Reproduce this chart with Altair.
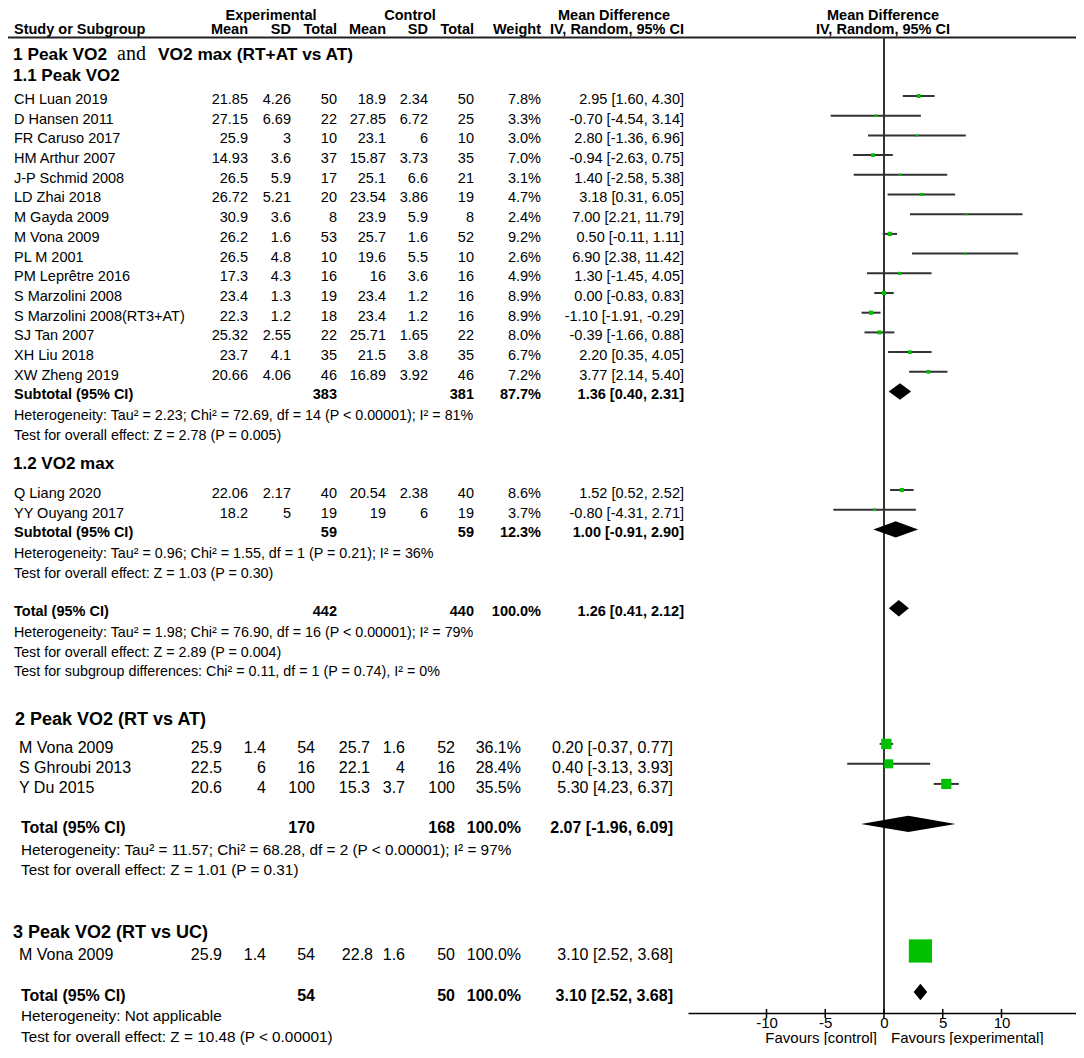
import altair as alt
import pandas as pd

# ---------------- data ----------------
s11_names = ["CH Luan 2019", "D Hansen 2011", "FR  Caruso 2017", "HM Arthur 2007", "J-P Schmid 2008",
             "LD Zhai 2018", "M Gayda 2009", "M Vona 2009", "PL M 2001", "PM Leprêtre 2016",
             "S Marzolini 2008", "S Marzolini 2008(RT3+AT)", "SJ Tan 2007", "XH Liu 2018", "XW Zheng 2019"]
s11_exp_mean = [21.85, 27.15, 25.9, 14.93, 26.5, 26.72, 30.9, 26.2, 26.5, 17.3, 23.4, 22.3, 25.32, 23.7, 20.66]
s11_exp_sd = [4.26, 6.69, 3, 3.6, 5.9, 5.21, 3.6, 1.6, 4.8, 4.3, 1.3, 1.2, 2.55, 4.1, 4.06]
s11_exp_n = [50, 22, 10, 37, 17, 20, 8, 53, 10, 16, 19, 18, 22, 35, 46]
s11_ctl_mean = [18.9, 27.85, 23.1, 15.87, 25.1, 23.54, 23.9, 25.7, 19.6, 16, 23.4, 23.4, 25.71, 21.5, 16.89]
s11_ctl_sd = [2.34, 6.72, 6, 3.73, 6.6, 3.86, 5.9, 1.6, 5.5, 3.6, 1.2, 1.2, 1.65, 3.8, 3.92]
s11_ctl_n = [50, 25, 10, 35, 21, 19, 8, 52, 10, 16, 16, 16, 22, 35, 46]
s11_weight = [7.8, 3.3, 3.0, 7.0, 3.1, 4.7, 2.4, 9.2, 2.6, 4.9, 8.9, 8.9, 8.0, 6.7, 7.2]
s11_md = [2.95, -0.70, 2.80, -0.94, 1.40, 3.18, 7.00, 0.50, 6.90, 1.30, 0.00, -1.10, -0.39, 2.20, 3.77]
s11_lo = [1.60, -4.54, -1.36, -2.63, -2.58, 0.31, 2.21, -0.11, 2.38, -1.45, -0.83, -1.91, -1.66, 0.35, 2.14]
s11_hi = [4.30, 3.14, 6.96, 0.75, 5.38, 6.05, 11.79, 1.11, 11.42, 4.05, 0.83, -0.29, 0.88, 4.05, 5.40]

s12_names = ["Q Liang 2020", "YY Ouyang 2017"]
s12_exp_mean = [22.06, 18.2]
s12_exp_sd = [2.17, 5]
s12_exp_n = [40, 19]
s12_ctl_mean = [20.54, 19]
s12_ctl_sd = [2.38, 6]
s12_ctl_n = [40, 19]
s12_weight = [8.6, 3.7]
s12_md = [1.52, -0.80]
s12_lo = [0.52, -4.31]
s12_hi = [2.52, 2.71]

s2_names = ["M Vona 2009", "S Ghroubi 2013", "Y Du 2015"]
s2_exp_mean = [25.9, 22.5, 20.6]
s2_exp_sd = [1.4, 6, 4]
s2_exp_n = [54, 16, 100]
s2_ctl_mean = [25.7, 22.1, 15.3]
s2_ctl_sd = [1.6, 4, 3.7]
s2_ctl_n = [52, 16, 100]
s2_weight = [36.1, 28.4, 35.5]
s2_md = [0.20, 0.40, 5.30]
s2_lo = [-0.37, -3.13, 4.23]
s2_hi = [0.77, 3.93, 6.37]

s3_names = ["M Vona 2009"]
s3_exp_mean = [25.9]
s3_exp_sd = [1.4]
s3_exp_n = [54]
s3_ctl_mean = [22.8]
s3_ctl_sd = [1.6]
s3_ctl_n = [50]
s3_weight = [100.0]
s3_md = [3.10]
s3_lo = [2.52]
s3_hi = [3.68]

pooled_labels = ["Subtotal (95% CI)", "Subtotal (95% CI)", "Total (95% CI)", "Total (95% CI)", "Total (95% CI)"]
pooled_exp_n = [383, 59, 442, 170, 54]
pooled_ctl_n = [381, 59, 440, 168, 50]
pooled_weight = [87.7, 12.3, 100.0, 100.0, 100.0]
pooled_md = [1.36, 1.00, 1.26, 2.07, 3.10]
pooled_lo = [0.40, -0.91, 0.41, -1.96, 2.52]
pooled_hi = [2.31, 2.90, 2.12, 6.09, 3.68]

het_texts = [
    ["Heterogeneity: Tau\u00b2 = 2.23; Chi\u00b2 = 72.69, df = 14 (P < 0.00001); I\u00b2 = 81%",
     "Test for overall effect: Z = 2.78 (P = 0.005)"],
    ["Heterogeneity: Tau\u00b2 = 0.96; Chi\u00b2 = 1.55, df = 1 (P = 0.21); I\u00b2 = 36%",
     "Test for overall effect: Z = 1.03 (P = 0.30)"],
    ["Heterogeneity: Tau\u00b2 = 1.98; Chi\u00b2 = 76.90, df = 16 (P < 0.00001); I\u00b2 = 79%",
     "Test for overall effect: Z = 2.89 (P = 0.004)",
     "Test for subgroup differences: Chi\u00b2 = 0.11, df = 1 (P = 0.74), I\u00b2 = 0%"],
    ["Heterogeneity: Tau\u00b2 = 11.57; Chi\u00b2 = 68.28, df = 2 (P < 0.00001); I\u00b2 = 97%",
     "Test for overall effect: Z = 1.01 (P = 0.31)"],
    ["Heterogeneity: Not applicable",
     "Test for overall effect: Z = 10.48 (P < 0.00001)"],
]
tick_values = [-10, -5, 0, 5, 10]

# ---------------- layout ----------------
M = 8                     # page margin
W, H = 1068, 1005         # plot area
PAD_B = 32
LINE = 19.7               # px per table line
Y0 = 0.533                # line value at top of plot
FONT = "Liberation Sans"
Y_AXIS = Y0 + H / LINE    # line value of the forest axis

# row slots (line numbers)
L_head1, L_head2, L_rule = 0.711, 1.447, 2.030
L_sec1, L_sub11 = 2.72, 3.78
L_s11 = [5 + i for i in range(15)]
L_p11, L_h11 = 20.0, [21.05, 22.06]
L_sub12 = 23.48
L_s12 = [25.0, 26.0]
L_p12, L_h12 = 27.0, [28.05, 29.06]
L_t1, L_ht1 = 31.0, [32.05, 33.07, 34.03]
L_sec2 = 36.47
L_s2 = [37.89, 38.9, 39.92]
L_t2, L_ht2 = 41.95, [43.07, 44.09]
L_sec3 = 47.28
L_s3 = [48.4]
L_t3, L_ht3 = 50.48, [51.5, 52.56]
L_fav = 52.62

# column positions (page x)
COL1 = dict(name=14, em=248, esd=291, en=337, cm=386, csd=428, cn=474, w=541, md=684, het=14, tot=14)
COL2 = dict(name=19, em=222, esd=266, en=315, cm=370, csd=405, cn=455, w=521, md=673, het=21, tot=21)
COL3 = dict(name=19, em=222, esd=266, en=315, cm=373, csd=405, cn=455, w=521, md=673, het=21, tot=21)

texts = []


def add(line, page_x, text, align="left", bold=False, size=14.5, font=FONT):
    texts.append(dict(line=line, px=page_x - M, text=text, align=align,
                      bold="bold" if bold else "normal", size=size, font=font))


def fnum(v):
    return f"{v:g}"


def fci(m, lo, hi):
    return f"{m:.2f} [{lo:.2f}, {hi:.2f}]"


forest = []


def add_studies(lines, col, size, names, em, esd, en, cm, csd, cn, w, md, lo, hi):
    for i, ln in enumerate(lines):
        add(ln, col["name"], names[i], size=size)
        add(ln, col["em"], fnum(em[i]), "right", size=size)
        add(ln, col["esd"], fnum(esd[i]), "right", size=size)
        add(ln, col["en"], str(en[i]), "right", size=size)
        add(ln, col["cm"], fnum(cm[i]), "right", size=size)
        add(ln, col["csd"], fnum(csd[i]), "right", size=size)
        add(ln, col["cn"], str(cn[i]), "right", size=size)
        add(ln, col["w"], f"{w[i]:.1f}%", "right", size=size)
        add(ln, col["md"], fci(md[i], lo[i], hi[i]), "right", size=size)
        forest.append(dict(line=ln, md=md[i], lo=lo[i], hi=hi[i], w=w[i]))


diamonds = []


def add_pooled(k, line, col, size, het_lines, het_size):
    add(line, col["tot"], pooled_labels[k], bold=True, size=size)
    add(line, col["en"], str(pooled_exp_n[k]), "right", True, size)
    add(line, col["cn"], str(pooled_ctl_n[k]), "right", True, size)
    add(line, col["w"], f"{pooled_weight[k]:.1f}%", "right", True, size)
    add(line, col["md"], fci(pooled_md[k], pooled_lo[k], pooled_hi[k]), "right", True, size)
    h = 8.2 / LINE
    for xv, dh in [(pooled_lo[k], 0), (pooled_md[k], h), (pooled_hi[k], 0)]:
        diamonds.append(dict(id=k, x=xv, y1=line - dh, y2=line + dh))
    for t, ln in zip(het_texts[k], het_lines):
        add(ln, col["het"], t, size=het_size)


# header
for lbl, x in [("Experimental", 271), ("Control", 410)]:
    add(L_head1, x, lbl, "center", True)
add(L_head1, 614, "Mean Difference", "center", True)
add(L_head1, 883, "Mean Difference", "center", True)
add(L_head2, 14, "Study or Subgroup", "left", True)
for lbl, key in [("Mean", "em"), ("SD", "esd"), ("Total", "en"), ("Mean", "cm"), ("SD", "csd"), ("Total", "cn"), ("Weight", "w")]:
    add(L_head2, COL1[key], lbl, "right", True)
add(L_head2, 684, "IV, Random, 95% CI", "right", True)
add(L_head2, 883, "IV, Random, 95% CI", "center", True)

# section 1
add(L_sec1, 13, "1 Peak VO2", bold=True, size=17.3)
add(L_sec1 - 0.05, 117, "and", size=20, font="Liberation Serif")
add(L_sec1, 158, "VO2 max (RT+AT vs AT)", bold=True, size=17.3)
add(L_sub11, 13, "1.1 Peak VO2", bold=True, size=17)
add_studies(L_s11, COL1, 14.5, s11_names, s11_exp_mean, s11_exp_sd, s11_exp_n, s11_ctl_mean, s11_ctl_sd,
            s11_ctl_n, s11_weight, s11_md, s11_lo, s11_hi)
add_pooled(0, L_p11, COL1, 14.5, L_h11, 14.3)
add(L_sub12, 13, "1.2 VO2 max", bold=True, size=17)
add_studies(L_s12, COL1, 14.5, s12_names, s12_exp_mean, s12_exp_sd, s12_exp_n, s12_ctl_mean, s12_ctl_sd,
            s12_ctl_n, s12_weight, s12_md, s12_lo, s12_hi)
add_pooled(1, L_p12, COL1, 14.5, L_h12, 14.3)
add_pooled(2, L_t1, COL1, 14.5, L_ht1, 14.3)

# section 2
add(L_sec2, 15, "2 Peak VO2 (RT vs AT)", bold=True, size=18)
add_studies(L_s2, COL2, 16, s2_names, s2_exp_mean, s2_exp_sd, s2_exp_n, s2_ctl_mean, s2_ctl_sd,
            s2_ctl_n, s2_weight, s2_md, s2_lo, s2_hi)
add_pooled(3, L_t2, COL2, 16, L_ht2, 15.3)

# section 3
add(L_sec3, 13, "3 Peak VO2 (RT vs UC)", bold=True, size=18)
add_studies(L_s3, COL3, 16, s3_names, s3_exp_mean, s3_exp_sd, s3_exp_n, s3_ctl_mean, s3_ctl_sd,
            s3_ctl_n, s3_weight, s3_md, s3_lo, s3_hi)
add_pooled(4, L_t3, COL3, 16, L_ht3, 15.3)

# ---------------- scales ----------------
XPX = alt.Scale(domain=[0, W], range=[0, W], nice=False, zero=False)
XS = alt.Scale(domain=[-16.68, 16.34], range=[680, 1068], nice=False, zero=False)
YS = alt.Scale(domain=[Y0, Y_AXIS], range=[0, H], nice=False, zero=False)
Y = alt.Y("line:Q", scale=YS, axis=None)

layers = []
tdf = pd.DataFrame(texts)
for (align, bold, font), g in tdf.groupby(["align", "bold", "font"]):
    layers.append(
        alt.Chart(g).mark_text(align=align, baseline="middle", fontWeight=bold, font=font, dy=4, color="black")
        .encode(x=alt.X("px:Q", scale=XPX, axis=None), y=Y, text="text:N",
                size=alt.Size("size:Q", scale=None, legend=None))
    )

# header rule
layers.append(
    alt.Chart(pd.DataFrame({"line": [L_rule]})).mark_rule(color="#222", strokeWidth=2)
    .encode(x=alt.value(0), x2=alt.value(W), y=Y)
)

# zero line
layers.append(
    alt.Chart(pd.DataFrame({"x": [0], "line": [L_rule], "line2": [Y_AXIS]}))
    .mark_rule(color="#333", strokeWidth=2)
    .encode(x=alt.X("x:Q", scale=XS, axis=None), y=Y, y2="line2:Q")
)

fdf = pd.DataFrame(forest)
# CI lines (carry the forest axis)
layers.append(
    alt.Chart(fdf).mark_rule(color="#333", strokeWidth=2)
    .encode(
        x=alt.X("lo:Q", scale=XS, title=None,
                axis=alt.Axis(values=tick_values, orient="bottom", grid=False, domainColor="black",
                              domainWidth=1.5, ticks=False,
                              labelFontSize=15, labelFont=FONT, labelColor="black", labelPadding=2,
                              labelExpr="'' + datum.value")),
        x2="hi:Q", y=Y)
)
# axis ticks crossing the axis line
layers.append(
    alt.Chart(pd.DataFrame({"t": tick_values, "line": [Y_AXIS - 4 / LINE] * 5, "line2": [Y_AXIS + 5 / LINE] * 5}))
    .mark_rule(color="black", strokeWidth=1.5)
    .encode(x=alt.X("t:Q", scale=XS, axis=None), y=Y, y2="line2:Q")
)
# squares
layers.append(
    alt.Chart(fdf).mark_square(filled=True, color="#00C000", opacity=1)
    .encode(x=alt.X("md:Q", scale=XS, axis=None), y=Y,
            size=alt.Size("w:Q", scale=alt.Scale(type="linear", domain=[0, 10, 40, 100], range=[0, 20, 120, 540]),
                          legend=None))
)
# diamonds
layers.append(
    alt.Chart(pd.DataFrame(diamonds)).mark_area(color="black", orient="vertical", opacity=1)
    .encode(x=alt.X("x:Q", scale=XS, axis=None),
            y=alt.Y("y1:Q", scale=YS, axis=None), y2="y2:Q", detail="id:N")
)
# favours labels
fav = pd.DataFrame({"x": [0, 0], "line": [L_fav, L_fav],
                    "text": ["Favours [control]", "Favours [experimental]"]})
layers.append(
    alt.Chart(fav[fav.index == 0]).mark_text(align="right", baseline="middle", dx=-7, dy=4, font=FONT, fontSize=15, color="black")
    .encode(x=alt.X("x:Q", scale=XS, axis=None), y=Y, text="text:N")
)
layers.append(
    alt.Chart(fav[fav.index == 1]).mark_text(align="left", baseline="middle", dx=7, dy=4, font=FONT, fontSize=15, color="black")
    .encode(x=alt.X("x:Q", scale=XS, axis=None), y=Y, text="text:N")
)

chart = (
    alt.layer(*layers)
    .resolve_scale(x="independent")
    .properties(width=W, height=H, background="white",
                autosize=alt.AutoSizeParams(type="none"),
                padding={"left": 0, "top": 0, "right": 0, "bottom": PAD_B})
    .configure_view(stroke=None)
)
chart.save("out.html", embed_options={"renderer": "svg", "actions": False})
